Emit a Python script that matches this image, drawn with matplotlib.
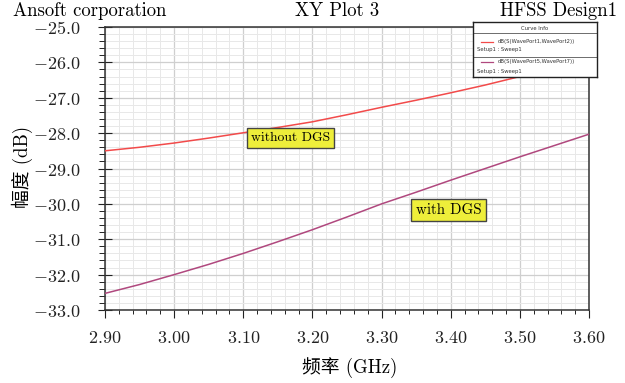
import matplotlib
matplotlib.use("Agg")
import matplotlib.pyplot as plt
from matplotlib.ticker import MultipleLocator, FuncFormatter

# --- data ------------------------------------------------------------------
freq = [2.90, 2.95, 3.00, 3.05, 3.10, 3.15, 3.20, 3.25, 3.30, 3.35, 3.40,
        3.45, 3.50, 3.55, 3.60]
without_dgs = [-28.50, -28.40, -28.28, -28.14, -27.99, -27.84, -27.68, -27.48,
               -27.27, -27.07, -26.86, -26.64, -26.40, -26.15, -25.90]
with_dgs = [-32.53, -32.28, -32.00, -31.71, -31.40, -31.07, -30.73, -30.37,
            -30.00, -29.67, -29.33, -29.00, -28.67, -28.35, -28.03]
x_ticks = [2.90, 3.00, 3.10, 3.20, 3.30, 3.40, 3.50, 3.60]
y_ticks = [-33, -32, -31, -30, -29, -28, -27, -26, -25]

RED = "#f24a4a"
PURPLE = "#b0487e"
BOX = "#eeee3a"
SERIF = ["cmr10", "Noto Sans CJK SC"]

plt.rcParams.update({
    "mathtext.fontset": "cm",
    "font.size": 12,
    "axes.unicode_minus": True,
})

W, H = 625, 383
fig = plt.figure(figsize=(W / 100, H / 100), dpi=100)
ax = fig.add_axes([105 / W, 1 - 310 / H, 484 / W, 283 / H])

ax.plot(freq, without_dgs, color=RED, lw=1.1, zorder=3)
ax.plot(freq, with_dgs, color=PURPLE, lw=1.1, zorder=3)

ax.set_xlim(2.90, 3.60)
ax.set_ylim(-33, -25)
ax.set_xticks(x_ticks)
ax.set_yticks(y_ticks)
ax.xaxis.set_minor_locator(MultipleLocator(0.02))
ax.yaxis.set_minor_locator(MultipleLocator(0.2))
ax.xaxis.set_major_formatter(FuncFormatter(lambda v, p: f"${v:.2f}$"))
ax.yaxis.set_major_formatter(FuncFormatter(lambda v, p: f"${v:.1f}$"))
ax.tick_params(axis="both", labelsize=13, colors="#222222")
ax.tick_params(axis="x", which="major", direction="out", length=6, pad=8)
ax.tick_params(axis="x", which="minor", direction="out", length=3)
ax.tick_params(axis="y", which="major", direction="inout", length=10, pad=13)
ax.tick_params(axis="y", which="minor", direction="out", length=4)
ax.grid(which="major", color="#cfcfcf", lw=0.9, zorder=0)
ax.grid(which="minor", color="#e8e8e8", lw=0.7, zorder=0)
ax.set_axisbelow(True)
for s in ax.spines.values():
    s.set_color("#333333")
    s.set_linewidth(1.1)

fig.text(350 / W, 1 - 368 / H, "频率 (GHz)", family=SERIF, fontsize=13.5,
         ha="center", va="center")
fig.text(22 / W, 1 - 167 / H, "幅度 (dB)", family=SERIF, fontsize=13.5,
         ha="center", va="center", rotation=90)

# header texts
for x, s, ha in [(13, "Ansoft corporation", "left"),
                 (337, "XY Plot 3", "center"),
                 (617, "HFSS Design1", "right")]:
    fig.text(x / W, 1 - 16 / H, s, family=SERIF, fontsize=13.5,
             ha=ha, va="baseline")

# yellow annotation boxes
box = dict(boxstyle="square,pad=0.3", fc=BOX, ec="#444444", lw=1.0)
ax.text(3.168, -28.14, "without DGS", family=SERIF, fontsize=9.8,
        ha="center", va="center", bbox=box, zorder=5)
ax.text(3.397, -30.17, "with DGS", family=SERIF, fontsize=10.8,
        ha="center", va="center", bbox=box, zorder=5)

# curve info box (HFSS style)
lg = fig.add_axes([473 / W, 1 - 77 / H, 124 / W, 55 / H], zorder=10)
lg.set_xlim(0, 124)
lg.set_ylim(55, 0)
lg.set_xticks([])
lg.set_yticks([])
lg.set_facecolor("white")
for s in lg.spines.values():
    s.set_color("#222222")
    s.set_linewidth(1.0)
small = dict(family="DejaVu Sans", fontsize=3.8, color="#333333")
lg.text(62, 6, "Curve Info", ha="center", va="center", **small)
lg.axhline(11, color="#555555", lw=0.6)
lg.plot([8, 20], [20, 20], color=RED, lw=0.9)
lg.text(25, 20, "dB(S(WavePort1,WavePort2))", ha="left", va="center", **small)
lg.text(4, 28, "Setup1 : Sweep1", ha="left", va="center", **small)
lg.axhline(35, color="#555555", lw=0.6)
lg.plot([8, 20], [40, 40], color=PURPLE, lw=0.9)
lg.text(25, 40, "dB(S(WavePort5,WavePort7))", ha="left", va="center", **small)
lg.text(4, 49, "Setup1 : Sweep1", ha="left", va="center", **small)

fig.savefig("out.png", dpi=100)
